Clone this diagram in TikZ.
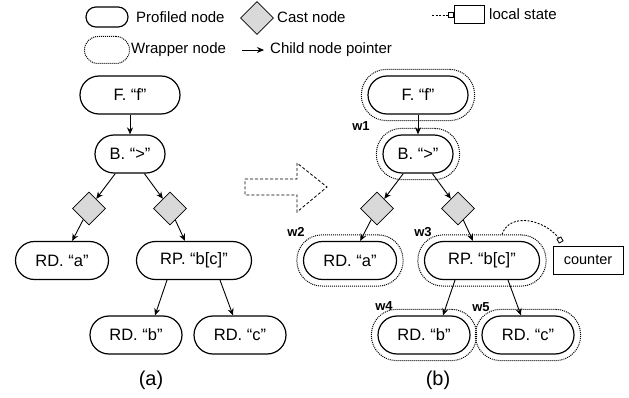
\documentclass[tikz,border=0pt]{standalone}
\usepackage{fontspec}
\setmainfont{Liberation Sans}
\usetikzlibrary{shapes.geometric,arrows.meta,fit}

\begin{document}
\begin{tikzpicture}[x=1pt,y=-1pt]
    \tikzset{
        prof/.style={draw, line width=1.2pt, rounded corners=19pt, minimum height=38pt, inner sep=0pt, font=\fontsize{16.5}{18}\selectfont},
        wrap/.style={draw, densely dotted, line width=1pt, rounded corners=25pt, inner sep=6pt},
        cast/.style={diamond, draw, line width=0.8pt, fill=black!15, minimum width=33pt, minimum height=33pt, inner sep=0pt},
        ptr/.style={-{Stealth[length=7pt,width=6pt]}, line width=0.9pt},
        wlab/.style={inner sep=0pt, font=\fontsize{13}{14}\selectfont\bfseries},
        legtext/.style={anchor=west, inner sep=0pt, font=\fontsize{15}{16}\selectfont},
        statebox/.style={draw, line width=0.9pt, inner sep=0pt},
        port/.style={draw, fill=white, line width=0.8pt, minimum size=4.5pt, inner sep=0pt},
        statelink/.style={line width=0.9pt, dash pattern=on 2pt off 1.5pt},
        caption/.style={inner sep=0pt, font=\fontsize{20}{22}\selectfont}
    }
    \useasboundingbox (0,0) rectangle (629,398);

    % legend
    \node[prof, minimum width=42pt, minimum height=20pt, rounded corners=9.9pt] (lprof) at (107,17) {};
    \node[legtext] (tprof) at (136,17) {Profiled node};
    \node[cast] (lcast) at (257,18) {};
    \node[legtext] (tcast) at (277,17) {Cast node};
    \coordinate (ldash) at (432,15);
    \node[port] (lport) at (451,15) {};
    \node[statebox, minimum width=30pt, minimum height=18pt] (lstate) at (469,14) {};
    \draw[statelink] (ldash) -- (lport);
    \node[legtext] (tstate) at (489,14) {local state};
    \node[wrap, inner sep=0pt, minimum width=45pt, minimum height=27pt, rounded corners=13.4pt] (lwrap) at (107,50) {};
    \node[legtext] (twrap) at (131,50) {Wrapper node};
    \coordinate (larr0) at (242,50);
    \coordinate (larr1) at (264,50);
    \draw[ptr] (larr0) -- (larr1);
    \node[legtext] (tarr) at (270,50) {Child node pointer};

    % both trees
    \foreach \t/\dx in {a/0, b/288}{
        \node[prof, minimum width=100pt] (f\t) at ({130+\dx},95) {F. “f”};
        \node[prof, minimum width=70pt] (b\t) at ({130+\dx},154) {B. “>”};
        \node[cast] (cl\t) at ({89+\dx},208.5) {};
        \node[cast] (cr\t) at ({170+\dx},208.5) {};
        \node[prof, minimum width=93pt] (rda\t) at ({62+\dx},260.5) {RD. “a”};
        \node[prof, minimum width=115pt] (rp\t) at ({194+\dx},260.5) {RP. “b[c]”};
        \node[prof, minimum width=92pt] (rdb\t) at ({136+\dx},335) {RD. “b”};
        \node[prof, minimum width=92pt] (rdc\t) at ({240+\dx},335) {RD. “c”};
        \draw[ptr] (f\t) -- (b\t);
        \draw[ptr] (b\t) -- (cl\t);
        \draw[ptr] (b\t) -- (cr\t);
        \draw[ptr] (cl\t) -- (rda\t);
        \draw[ptr] (cr\t) -- (rp\t);
        \draw[ptr] ([xshift=-27pt]rp\t.south) -- ([xshift=19pt]rdb\t.north);
        \draw[ptr] ([xshift=26pt]rp\t.south) -- ([xshift=-7pt]rdc\t.north);
    }

    % wrappers
    \node[wrap, fit=(fb)] (wf) {};
    \node[wrap, fit=(bb)] (wb) {};
    \node[wrap, fit=(rdab)] (wrda) {};
    \node[wrap, fit=(rpb)] (wrp) {};
    \node[wrap, fit=(rdbb)] (wrdb) {};
    \node[wrap, fit=(rdcb)] (wrdc) {};
    \node[wlab] (lw1) at (361,126) {w1};
    \node[wlab] (lw2) at (296,232) {w2};
    \node[wlab] (lw3) at (423,232) {w3};
    \node[wlab] (lw4) at (384,306) {w4};
    \node[wlab] (lw5) at (481,307) {w5};

    % local state
    \node[statebox, minimum width=70pt, minimum height=28pt, font=\fontsize{14.5}{16}\selectfont] (ctr) at (588,260) {counter};
    \node[port, rotate=30] (cport) at (560,240) {};
    \draw[statelink] ([xshift=20pt]wrp.north) .. controls +(8,-23) and +(-15,-20) .. (cport);

    \draw[line width=0.8pt, dash pattern=on 3pt off 2pt] (245,179) -- (297,179) -- (297,163) -- (327,187) -- (297,212) -- (297,195) -- (245,195) -- cycle;

    \node[caption] (capa) at (151,380) {(a)};
    \node[caption] (capb) at (438,380) {(b)};
\end{tikzpicture}
\end{document}
